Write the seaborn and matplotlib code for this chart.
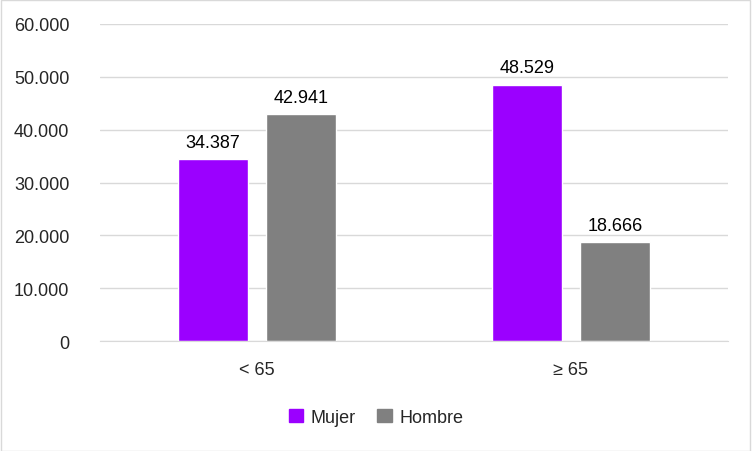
import matplotlib
matplotlib.use("Agg")
import matplotlib.pyplot as plt
import seaborn as sns
import pandas as pd
from matplotlib.patches import Rectangle

categories = ["< 65", "≥ 65"]
mujer = [34387, 48529]
hombre = [42941, 18666]
series = ["Mujer", "Hombre"]
yticks = [0, 10000, 20000, 30000, 40000, 50000, 60000]

df = pd.DataFrame({
    "cat": categories * 2,
    "val": mujer + hombre,
    "sex": ["Mujer"] * 2 + ["Hombre"] * 2,
})

sns.set_style("white")
plt.rcParams['font.family'] = ['Liberation Sans', 'DejaVu Sans']

fig = plt.figure(figsize=(7.52, 4.52), dpi=100)
ax = fig.add_axes([0.133, 0.243, 0.835, 0.702])
palette = {"Mujer": "#9B00FF", "Hombre": "#808080"}
sns.barplot(data=df, x="cat", y="val", hue="sex", order=categories, hue_order=series,
            palette=palette, width=0.56, gap=0.2, saturation=1, ax=ax, legend=False)

fmt = lambda v: f"{v:,.0f}".replace(",", ".")
for cont in ax.containers:
    ax.bar_label(cont, labels=[fmt(v) for v in cont.datavalues], padding=6, fontsize=13, color="#000000")

ax.set_xlim(-0.5, 1.5)
ax.set_ylim(0, 60000)
ax.set_yticks(yticks)
ax.set_yticklabels([fmt(v) for v in yticks], fontsize=13)
ax.tick_params(axis='x', labelsize=13, pad=14, length=0)
ax.tick_params(axis='y', length=0, pad=22)
ax.yaxis.grid(True, color="#D9D9D9", linewidth=1)
ax.set_axisbelow(True)
for s in ["top", "right", "left"]:
    ax.spines[s].set_visible(False)
ax.spines["bottom"].set_color("#D9D9D9")
ax.set_xlabel("")
ax.set_ylabel("")

handles = [Rectangle((0, 0), 1, 1, color=palette[s]) for s in series]
fig.legend(handles, series, loc="center", bbox_to_anchor=(0.5, 0.075), ncol=2, frameon=False,
           fontsize=13, handlelength=0.8, handleheight=0.8, columnspacing=1.2, handletextpad=0.4)

fig.patches.append(Rectangle((0.001, 0.001), 0.997, 0.997, transform=fig.transFigure,
                             fill=False, edgecolor="#D9D9D9", linewidth=1))
fig.savefig("out.png", dpi=100)
